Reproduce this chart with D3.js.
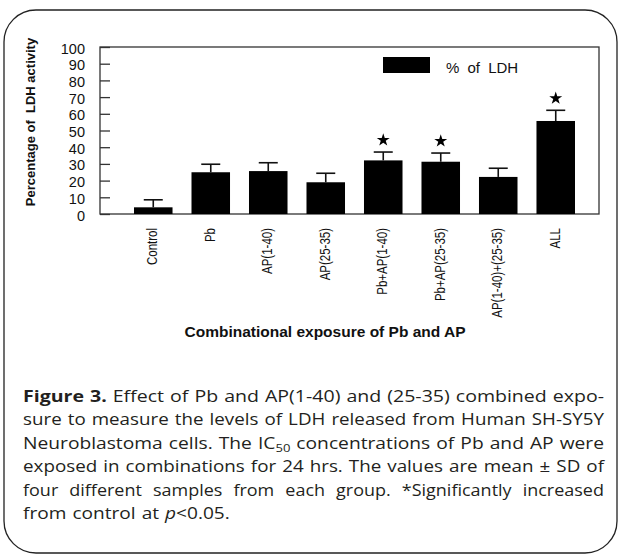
<!DOCTYPE html>
<html><head><meta charset="utf-8">
<script src="https://cdn.jsdelivr.net/npm/d3@7"></script>
<style>body{margin:0;background:#fff}svg{display:block}</style>
</head><body><svg id="c" width="619" height="556"></svg>
<script>
const categories = ["Control","Pb","AP(1-40)","AP(25-35)","Pb+AP(1-40)","Pb+AP(25-35)","AP(1-40)+(25-35)","ALL"];
const ldhMean = [4, 25, 25.7, 19, 32.1, 31.3, 22.2, 55.7];
const ldhSD = [4.5, 4.8, 5, 5.4, 5, 5.2, 5.2, 6.4];
const significant = [false, false, false, false, true, true, false, true];
const yTicks = [0, 10, 20, 30, 40, 50, 60, 70, 80, 90, 100];
const legendLabel = "% of LDH";
const yTitle = "Percentage of  LDH activity";
const xTitle = "Combinational exposure of Pb and AP";
const captionLines = [
  "**Figure** **3.** Effect of Pb and AP(1-40) and (25-35) combined expo-",
  "sure to measure the levels of LDH released from Human SH-SY5Y",
  "Neuroblastoma cells. The IC~50~ concentrations of Pb and AP were",
  "exposed in combinations for 24 hrs. The values are mean ± SD of",
  "four different samples from each group. *Significantly increased",
  "from control at _p_<0.05."
];
const captionGaps = [6, 6, 6, 6, 11, 6];

const svg = d3.select("#c");
svg.append("rect").attr("width",619).attr("height",556).attr("fill","#fff");

// rounded frame
svg.append("rect").attr("x",4).attr("y",10).attr("width",613).attr("height",543)
  .attr("rx",32).attr("ry",32).attr("fill","none").attr("stroke","#222").attr("stroke-width",1.3);

const x = d3.scaleBand().domain(categories).range([134,575]).paddingInner(0.33).paddingOuter(0);
const y = d3.scaleLinear().domain([0,100]).range([214,47]);
const chartFont = "'Liberation Sans', Arial, Helvetica, sans-serif";

// plot box
svg.append("rect").attr("x",100).attr("y",y(100)).attr("width",499).attr("height",y(0)-y(100))
  .attr("fill","none").attr("stroke","#333").attr("stroke-width",1.3);

// y axis
const yAxis = svg.append("g").attr("transform","translate(100,0)")
  .call(d3.axisLeft(y).tickValues(yTicks).tickSize(-10).tickPadding(15));
yAxis.select(".domain").remove();
yAxis.selectAll("line").attr("stroke","#333").attr("stroke-width",1.3);
yAxis.selectAll("text").attr("font-family",chartFont).attr("font-size",14.5).attr("fill","#111").attr("dy","0.42em");

const data = categories.map((c,i)=>({c, v:ldhMean[i], sd:ldhSD[i], sig:significant[i]}));

// bars
svg.append("g").selectAll("rect").data(data).join("rect")
  .attr("x",d=>x(d.c)).attr("width",x.bandwidth())
  .attr("y",d=>y(d.v)).attr("height",d=>y(0)-y(d.v)).attr("fill","#000");

// error bars
const eb = svg.append("g").attr("stroke","#111").attr("stroke-width",1.6);
data.forEach(d=>{
  const cx = x(d.c)+x.bandwidth()/2;
  eb.append("line").attr("x1",cx).attr("x2",cx).attr("y1",y(d.v)).attr("y2",y(d.v+d.sd));
  eb.append("line").attr("x1",cx-9.5).attr("x2",cx+9.5).attr("y1",y(d.v+d.sd)).attr("y2",y(d.v+d.sd));
});

// stars
svg.append("g").selectAll("path").data(data.filter(d=>d.sig)).join("path")
  .attr("d",d3.symbol(d3.symbolStar,52))
  .attr("transform",d=>`translate(${x(d.c)+x.bandwidth()/2},${y(d.v+d.sd)-12})`)
  .attr("fill","#000");

// x labels
svg.append("g").selectAll("text").data(categories).join("text")
  .attr("transform",d=>`translate(${x(d)+x.bandwidth()/2 - 1},228) scale(1.2,1) rotate(-90)`)
  .attr("text-anchor","end").attr("dy","0.35em")
  .attr("font-family",chartFont).attr("font-size",11.5).attr("fill","#111").text(d=>d);

// legend
svg.append("rect").attr("x",383).attr("y",57).attr("width",47).attr("height",16).attr("fill","#000");
svg.append("text").attr("x",446).attr("y",68).attr("dy","0.35em")
  .attr("font-family",chartFont).attr("font-size",15).attr("word-spacing",4).attr("fill","#111").text(legendLabel);

// axis titles
svg.append("text").attr("transform","translate(35,122) rotate(-90)").attr("text-anchor","middle")
  .attr("font-family",chartFont).attr("font-weight","bold").attr("font-size",13).attr("fill","#111")
  .style("white-space","pre").text(yTitle);
svg.append("text").attr("x",325).attr("y",337).attr("text-anchor","middle")
  .attr("font-family",chartFont).attr("font-weight","bold").attr("font-size",15.5).attr("fill","#111").text(xTitle);

// caption (justified, horizontally widened like the reference)
const capFont = "'Open Sans', 'Noto Sans', sans-serif";
const capSize = 16;
const capLeft = 23, capRight = 604, capBase = 402, capStep = 23.4;
function parseWord(w){
  const pieces = [];
  const re = /\*\*(.+?)\*\*|_(.+?)_|~(.+?)~|([^*_~]+)|(.)/g;
  let m;
  while((m = re.exec(w))){
    if(m[1]) pieces.push({t:m[1], b:true});
    else if(m[2]) pieces.push({t:m[2], i:true});
    else if(m[3]) pieces.push({t:m[3], sub:true});
    else pieces.push({t:m[4] || m[5]});
  }
  return pieces;
}
const capG = svg.append("g").attr("font-family",capFont).attr("font-size",capSize).attr("fill","#231f20");
const lineInfo = captionLines.map((line,li)=>{
  const words = line.split(" ");
  const nodes = words.map(w=>{
    const t = capG.append("text").attr("x",0).attr("y",capBase+li*capStep);
    parseWord(w).forEach(p=>{
      const ts = t.append("tspan").text(p.t);
      if(p.b) ts.attr("font-weight","bold");
      if(p.i) ts.attr("font-style","italic");
      if(p.sub) ts.attr("font-size",capSize*0.68).attr("dy",3.5);
    });
    return t;
  });
  const widths = nodes.map(n=>n.node().getComputedTextLength());
  return {nodes, widths, total:d3.sum(widths), n:words.length, y:capBase+li*capStep};
});
const justified = lineInfo.slice(0,-1);
const sxs = justified.map((L,i)=>(capRight-capLeft-captionGaps[i]*(L.n-1))/L.total);
const meanSx = d3.mean(sxs.slice(0,4));
lineInfo.forEach((L,li)=>{
  const last = li === lineInfo.length-1;
  const sx = last ? meanSx : Math.min(sxs[li], meanSx*1.03);
  const gap = last ? captionGaps[li] : (capRight-capLeft-L.total*sx)/(L.n-1);
  let cx = capLeft;
  L.nodes.forEach((n,i)=>{
    n.attr("transform",`translate(${cx},${L.y}) scale(${sx},1) translate(0,${-L.y})`);
    cx += L.widths[i]*sx+gap;
  });
});
</script></body></html>
